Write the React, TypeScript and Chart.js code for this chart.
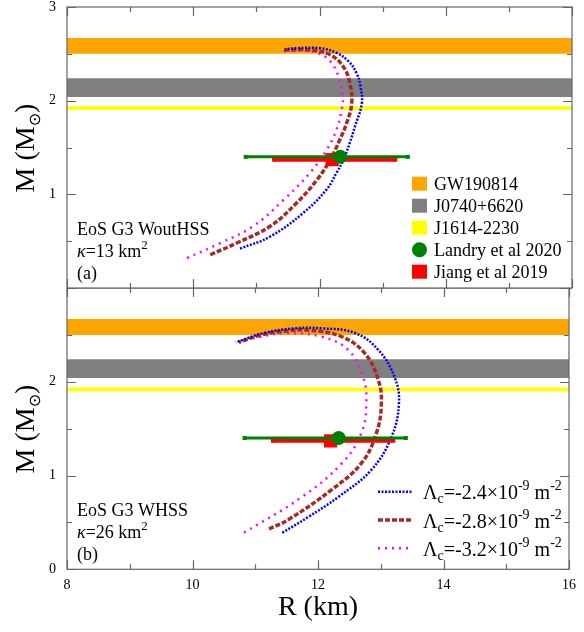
import React, { useEffect, useRef } from 'react';
import { Chart, registerables } from 'chart.js';
Chart.register(...registerables);

const SERIF = '"Liberation Serif", "Times New Roman", "DejaVu Serif", serif';

// axes
const R_MIN = 8;
const R_MAX = 16;
const R_STEP = 2;
const M_MIN = 0;
const M_MAX = 3;
const M_STEP = 1;

// observational mass bands
const bandNames = ['GW190814', 'J0740+6620', 'J1614-2230'];
const bandLow = [2.5, 2.04, 1.9];
const bandHigh = [2.67, 2.24, 1.94];
const bandColors = ['#ffa500', '#808080', '#ffff00'];

// radius constraints at fixed mass
const pointNames = ['Landry et al 2020', 'Jiang et al 2019'];
const pointR = [12.33, 12.2];
const pointM = [1.4, 1.37];
const pointRLow = [10.83, 11.28];
const pointRHigh = [13.4, 13.2];

// curve labels (Lambda_c in 10^-9 m^-2)
const lambdaValues = ['-2.4', '-2.8', '-3.2'];

// panel (a): EoS G3 WoutHSS, kappa = 13 km^2
const aBlueR = [10.74, 11.22, 11.74, 12.11, 12.27, 12.38, 12.48, 12.56, 12.67, 12.65, 12.59, 12.46, 12.27, 12.01, 11.64, 11.45];
const aBlueM = [0.42, 0.55, 0.8, 1.05, 1.23, 1.37, 1.55, 1.72, 1.97, 2.15, 2.29, 2.42, 2.51, 2.56, 2.56, 2.55];
const aBrownR = [10.27, 10.69, 11.22, 11.64, 11.96, 12.17, 12.32, 12.43, 12.51, 12.48, 12.38, 12.17, 11.85, 11.43];
const aBrownM = [0.355, 0.48, 0.66, 0.91, 1.155, 1.37, 1.58, 1.76, 1.97, 2.19, 2.36, 2.49, 2.54, 2.54];
const aMagR = [9.9, 10.43, 10.95, 11.43, 11.85, 12.11, 12.27, 12.35, 12.37, 12.3, 12.17, 11.96, 11.64, 11.43];
const aMagM = [0.32, 0.48, 0.66, 0.94, 1.23, 1.47, 1.69, 1.9, 2.04, 2.26, 2.42, 2.51, 2.54, 2.53];

// panel (b): EoS G3 WHSS, kappa = 26 km^2
const bBlueR = [11.43, 11.85, 12.32, 12.85, 13.17, 13.29, 13.22, 12.96, 12.59, 12.06, 11.64, 11.14, 10.69];
const bBlueM = [0.39, 0.56, 0.77, 1.06, 1.41, 1.77, 2.05, 2.34, 2.52, 2.57, 2.57, 2.52, 2.42];
const bBrownR = [11.22, 11.53, 12.22, 12.69, 12.93, 13.01, 12.96, 12.75, 12.38, 11.85, 11.48, 11.09, 10.74];
const bBrownM = [0.43, 0.53, 0.85, 1.13, 1.45, 1.77, 2.02, 2.3, 2.48, 2.55, 2.54, 2.5, 2.42];
const bMagR = [10.82, 11.74, 12.38, 12.69, 12.77, 12.72, 12.48, 12.06, 11.48, 11.09, 10.69];
const bMagM = [0.39, 0.77, 1.13, 1.45, 1.77, 2.05, 2.34, 2.48, 2.52, 2.48, 2.42];

const panelA = { title: 'EoS G3 WoutHSS', kappa: '13', tag: '(a)' };
const panelB = { title: 'EoS G3 WHSS', kappa: '26', tag: '(b)' };

const curveStyles = [
  { color: '#0000ff', width: 2.5, dash: [2, 1.5] },
  { color: '#a52a2a', width: 3.5, dash: [5, 2] },
  { color: '#ff00ff', width: 2.5, dash: [2, 5] },
];
const pointColors = ['#008000', '#ff0000'];

const zip = (xs: number[], ys: number[]) => xs.map((x, i) => ({ x, y: ys[i] }));

function buildDatasets(curves: [number[], number[]][]) {
  const ds: any[] = [];
  bandNames.forEach((name, i) => {
    ds.push({
      label: name,
      data: [{ x: R_MIN, y: bandLow[i] }, { x: R_MAX, y: bandLow[i] }],
      showLine: true,
      borderWidth: 0,
      pointRadius: 0,
      backgroundColor: bandColors[i],
      borderColor: bandColors[i],
      fill: { value: bandHigh[i] },
      order: 10,
    });
  });
  curves.forEach(([r, m], i) => {
    const s = curveStyles[i];
    ds.push({
      label: 'L' + lambdaValues[i],
      data: zip(r, m),
      showLine: true,
      borderColor: s.color,
      borderWidth: s.width,
      borderDash: s.dash,
      pointRadius: 0,
      tension: 0.4,
      fill: false,
      order: 5,
    });
  });
  // error bars (Jiang lower, Landry above)
  [1, 0].forEach((i, k) => {
    ds.push({
      label: pointNames[i] + ' bar',
      data: [{ x: pointRLow[i], y: pointM[i] }, { x: pointRHigh[i], y: pointM[i] }],
      showLine: true,
      borderColor: pointColors[i],
      backgroundColor: pointColors[i],
      borderWidth: i === 1 ? 4 : 3,
      pointStyle: 'rect',
      pointRadius: 2.8,
      pointBorderWidth: 0,
      pointBackgroundColor: pointColors[i],
      fill: false,
      order: 4 - k * 2,
    });
    ds.push({
      label: pointNames[i],
      data: [{ x: pointR[i], y: pointM[i] }],
      showLine: false,
      pointStyle: i === 1 ? 'rect' : 'circle',
      pointRadius: i === 1 ? 9.3 : 7,
      pointBorderWidth: 0,
      pointBackgroundColor: pointColors[i],
      order: 3 - k * 2,
    });
  });
  return ds;
}

function drawRich(ctx: CanvasRenderingContext2D, x: number, y: number, parts: { t: string; size: number; dy?: number; italic?: boolean }[]) {
  let cx = x;
  for (const p of parts) {
    ctx.font = `${p.italic ? 'italic ' : ''}${p.size}px ${SERIF}`;
    ctx.fillText(p.t, cx, y + (p.dy || 0));
    cx += ctx.measureText(p.t).width;
  }
}

function drawYTitle(ctx: CanvasRenderingContext2D, cx: number, cy: number) {
  ctx.save();
  ctx.translate(cx, cy);
  ctx.rotate(-Math.PI / 2);
  ctx.fillStyle = '#000';
  ctx.textBaseline = 'alphabetic';
  ctx.textAlign = 'left';
  const big = `28px ${SERIF}`;
  const small = `16px "DejaVu Sans", ${SERIF}`;
  ctx.font = big;
  const w1 = ctx.measureText('M (M').width;
  const w3 = ctx.measureText(')').width;
  ctx.font = small;
  const w2 = ctx.measureText('\u2299').width;
  let x = -(w1 + w2 + w3) / 2;
  const base = 9;
  ctx.font = big;
  ctx.fillText('M (M', x, base);
  x += w1;
  ctx.font = small;
  ctx.fillText('\u2299', x, base + 6);
  x += w2;
  ctx.font = big;
  ctx.fillText(')', x, base);
  ctx.restore();
}

function makeDecor(panel: { title: string; kappa: string; tag: string }, isTop: boolean) {
  return {
    id: 'decor',
    afterDatasetsDraw(chart: any) {
      const { ctx, chartArea: a, scales } = chart;
      const x = scales.x;
      const y = scales.y;
      ctx.save();
      ctx.strokeStyle = '#666';
      ctx.lineWidth = 1.2;
      ctx.beginPath();
      for (let v = R_MIN; v <= R_MAX + 1e-9; v += R_STEP / 2) {
        const px = Math.round(x.getPixelForValue(v)) + 0.5;
        const len = Math.abs((v - R_MIN) % R_STEP) < 1e-6 ? 9 : 5;
        ctx.moveTo(px, a.top);
        ctx.lineTo(px, a.top + len);
        ctx.moveTo(px, a.bottom);
        ctx.lineTo(px, a.bottom - len);
      }
      for (let v = M_MIN; v <= M_MAX + 1e-9; v += M_STEP / 2) {
        const py = Math.round(y.getPixelForValue(v)) + 0.5;
        const len = Math.abs((v - M_MIN) % M_STEP) < 1e-6 ? 9 : 5;
        ctx.moveTo(a.left, py);
        ctx.lineTo(a.left + len, py);
        ctx.moveTo(a.right, py);
        ctx.lineTo(a.right - len, py);
      }
      ctx.stroke();
      ctx.strokeRect(a.left, a.top, a.right - a.left, a.bottom - a.top);

      // panel annotation
      ctx.fillStyle = '#000';
      ctx.textBaseline = 'alphabetic';
      ctx.textAlign = 'left';
      const ax = a.left + 10;
      const b0 = a.bottom - 53;
      drawRich(ctx, ax, b0, [{ t: panel.title, size: 18 }]);
      drawRich(ctx, ax, b0 + 22, [
        { t: '\u03ba', size: 18, italic: true },
        { t: '=' + panel.kappa + ' km', size: 18 },
        { t: '2', size: 13, dy: -8 },
      ]);
      drawRich(ctx, ax, b0 + 44, [{ t: panel.tag, size: 18 }]);

      if (isTop) {
        const bx = 412;
        const tx = 434;
        const c0 = 183.7;
        const step = 22;
        bandNames.forEach((name, i) => {
          const c = c0 + i * step;
          ctx.fillStyle = bandColors[i];
          ctx.fillRect(bx, c - 7, 15, 14);
          ctx.fillStyle = '#000';
          drawRich(ctx, tx, c + 6.5, [{ t: name, size: 18 }]);
        });
        pointNames.forEach((name, i) => {
          const c = c0 + (i + 3) * step;
          ctx.fillStyle = pointColors[i];
          if (i === 0) {
            ctx.beginPath();
            ctx.arc(bx + 7.5, c, 7.5, 0, Math.PI * 2);
            ctx.fill();
          } else {
            ctx.fillRect(bx, c - 7, 15, 14);
          }
          ctx.fillStyle = '#000';
          drawRich(ctx, tx, c + 6.5, [{ t: name, size: 18 }]);
        });
      } else {
        const lx0 = 378;
        const lx1 = 413;
        const tx = 423;
        const c0 = 203.7;
        const step = 28.3;
        lambdaValues.forEach((lv, i) => {
          const c = c0 + i * step;
          const s = curveStyles[i];
          ctx.save();
          ctx.strokeStyle = s.color;
          ctx.lineWidth = s.width;
          ctx.setLineDash(s.dash);
          ctx.beginPath();
          ctx.moveTo(lx0, c);
          ctx.lineTo(lx1, c);
          ctx.stroke();
          ctx.restore();
          ctx.fillStyle = '#000';
          drawRich(ctx, tx, c + 7.5, [
            { t: '\u039b', size: 20 },
            { t: 'c', size: 14, dy: 4 },
            { t: '=' + lv + '\u00d710', size: 20 },
            { t: '-9', size: 14, dy: -9 },
            { t: ' m', size: 20 },
            { t: '-2', size: 14, dy: -9 },
          ]);
        });
      }
      ctx.restore();
    },
    afterDraw(chart: any) {
      const cy = isTop ? 148 : 141;
      drawYTitle(chart.ctx, 25, cy);
    },
  };
}

function yScale(hide: number) {
  return {
    type: 'linear',
    min: M_MIN,
    max: M_MAX,
    grid: { display: false, drawTicks: false },
    border: { display: false },
    ticks: {
      stepSize: M_STEP,
      padding: 11,
      color: '#000',
      font: { family: SERIF, size: 14 },
      callback: (v: number) => (v === hide ? '' : String(v)),
    },
    afterFit(s: any) {
      s.width = 67;
      s.paddingTop = 0;
      s.paddingBottom = 0;
    },
  };
}

export default function App() {
  const topRef = useRef<HTMLCanvasElement>(null);
  const botRef = useRef<HTMLCanvasElement>(null);

  useEffect(() => {
    const top = new Chart(topRef.current as HTMLCanvasElement, {
      type: 'scatter',
      data: { datasets: buildDatasets([[aBlueR, aBlueM], [aBrownR, aBrownM], [aMagR, aMagM]]) },
      options: {
        animation: false,
        responsive: false,
        maintainAspectRatio: false,
        layout: { autoPadding: false, padding: { left: 0, right: 12, top: 7, bottom: 2 } },
        plugins: { legend: { display: false }, tooltip: { enabled: false } },
        scales: {
          x: { type: 'linear', min: R_MIN, max: R_MAX, display: false },
          y: yScale(0) as any,
        },
      },
      plugins: [makeDecor(panelA, true)],
    });
    const bot = new Chart(botRef.current as HTMLCanvasElement, {
      type: 'scatter',
      data: { datasets: buildDatasets([[bBlueR, bBlueM], [bBrownR, bBrownM], [bMagR, bMagM]]) },
      options: {
        animation: false,
        responsive: false,
        maintainAspectRatio: false,
        layout: { autoPadding: false, padding: { left: 0, right: 12, top: 0, bottom: 0 } },
        plugins: { legend: { display: false }, tooltip: { enabled: false } },
        scales: {
          x: {
            type: 'linear',
            min: R_MIN,
            max: R_MAX,
            grid: { display: false, drawTicks: false },
            border: { display: false },
            ticks: { stepSize: R_STEP, padding: 8, color: '#000', font: { family: SERIF, size: 14 } },
            title: { display: true, text: 'R (km)', color: '#000', font: { family: SERIF, size: 28 }, padding: { top: 0, bottom: 8 } },
            afterFit(s: any) {
              s.height = 62.7;
            },
          } as any,
          y: yScale(3) as any,
        },
      },
      plugins: [makeDecor(panelB, false)],
    });
    return () => {
      top.destroy();
      bot.destroy();
    };
  }, []);

  return (
    <div style={{ position: 'absolute', left: 0, top: 0, width: 584, height: 632, background: '#fff' }}>
      <canvas ref={topRef} width={584} height={290} style={{ position: 'absolute', left: 0, top: 0 }} />
      <canvas ref={botRef} width={584} height={344} style={{ position: 'absolute', left: 0, top: 288 }} />
    </div>
  );
}
